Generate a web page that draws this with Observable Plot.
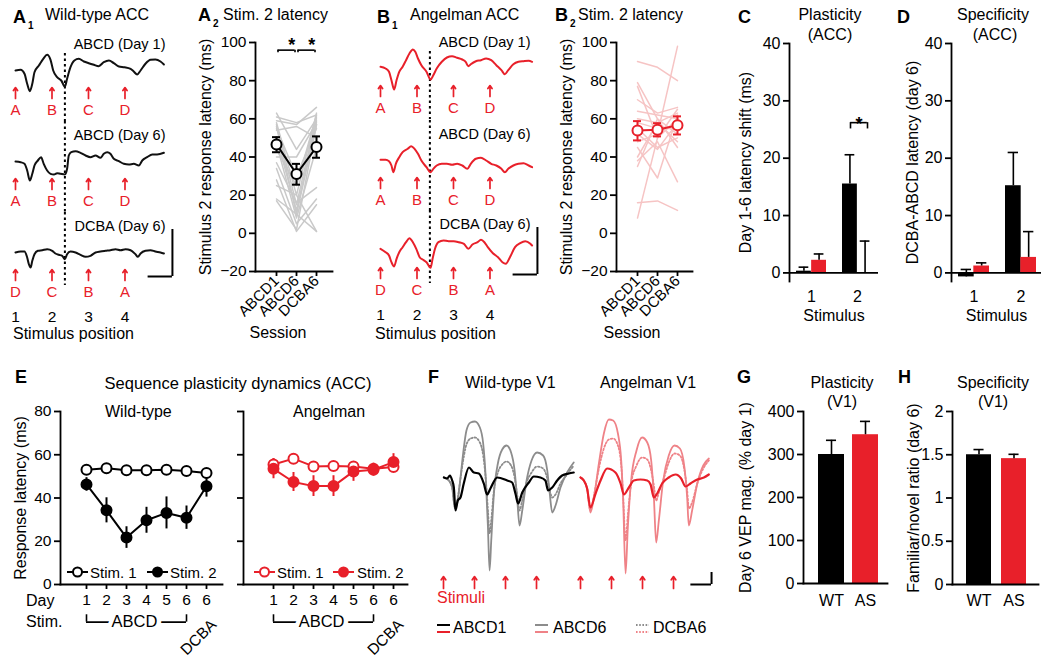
<!DOCTYPE html>
<html><head><meta charset="utf-8">
<script src="https://cdn.jsdelivr.net/npm/d3@7"></script>
<script src="https://cdn.jsdelivr.net/npm/@observablehq/plot@0.6"></script>
<style>
body{margin:0;background:#fff;}
#root{position:relative;width:1050px;height:658px;overflow:hidden;font-family:'Liberation Sans',Arial,Helvetica,sans-serif;color:#000;background:#fff;}
.t{position:absolute;white-space:nowrap;line-height:1;}
</style></head><body><div id="root"></div>
<script>
// ================= DATA =================
const stimTimes = [0, 150, 300, 450];              // ms, stimulus onsets
const stimPositionLabels = ["1", "2", "3", "4"];
const rowTitles = ["ABCD (Day 1)", "ABCD (Day 6)", "DCBA (Day 6)"];
const rowLetters = [["A","B","C","D"], ["A","B","C","D"], ["D","C","B","A"]];

// ACC traces [ms, amplitude]
const wtAccDay1 = [[0,0],[21,0.7],[37,-3.3],[48,-13.3],[59,-20.7],[69,-13.3],[78,-1.7],[96,5],[114,11.7],[130,15.7],[144,10.7],[155,0],[171,-6.7],[188,-10],[203,-16],[212,-8.3],[226,3.3],[242,10],[260,11.7],[281,9],[301,7.3],[322,5.7],[342,4.3],[363,8.3],[384,10],[404,7.3],[425,4],[448,3.3],[473,1.7],[486,-1],[500,-4],[514,0],[534,6.7],[555,10.7],[575,11],[596,9],[610,6]];
const wtAccDay6 = [[0,0],[21,-0.7],[37,-2.3],[48,-9],[59,-19],[69,-12.3],[78,-4],[92,1],[105,4.3],[116,-2.3],[130,-9],[144,-12.3],[158,-13],[171,-11.7],[185,-12.3],[203,-13],[212,-7.3],[219,6],[229,9.3],[247,10.3],[267,8.7],[288,6],[308,4.3],[329,6],[349,3.7],[363,7.7],[377,9.3],[390,7.7],[404,2.7],[425,0.3],[445,-2.3],[466,-3],[486,-2.3],[507,-4],[521,1],[541,4.3],[562,7],[582,7],[610,8.7]];
const wtAccRev6 = [[0,0],[21,1],[37,1],[48,-5],[55,-11.7],[62,-15],[69,-8.3],[78,-1.7],[92,1.7],[110,2.3],[130,3.3],[151,1.7],[164,-1],[178,-2.3],[192,-3.3],[203,-6.7],[212,-1.7],[226,1],[247,0],[267,-2.3],[288,-4.3],[308,-3.3],[329,0],[349,1],[370,1.7],[390,2.3],[411,3.3],[432,2.3],[452,3.3],[473,2.3],[493,-1.7],[503,-4.3],[514,-1],[534,1.7],[555,2.3],[575,1],[596,0],[610,-1]];
const asAccDay1 = [[0,1.7],[21,0],[35,-3.3],[45,-11.7],[56,-21],[66,-11.7],[77,-3.3],[91,1.7],[105,8.3],[119,15],[133,19],[143,16.7],[154,10],[168,3.3],[189,-3.3],[206,-11],[217,-6.7],[231,0],[252,6.7],[273,11],[294,12.3],[315,10.7],[336,9],[350,6.7],[361,2.3],[371,4.3],[392,7.3],[413,8.3],[434,10],[455,8.3],[476,3.3],[497,-1.7],[511,-5.7],[525,-1.7],[546,4.3],[567,6.7],[588,7.3],[609,7.7],[623,6.7]];
const asAccDay6 = [[0,0.7],[21,0.7],[35,-0.7],[45,-5],[53,-11.7],[63,-3.3],[77,3.3],[91,8.3],[112,11.7],[126,14.3],[140,11.7],[154,6.7],[168,0],[189,-6.7],[206,-11.7],[217,-8.3],[231,-5],[252,-3.3],[273,-3.3],[294,-4.3],[315,-3.3],[336,-5],[357,-8.3],[371,-3.3],[392,1.7],[413,2.7],[434,0],[455,-3.3],[476,-5],[497,-8.3],[511,-11.7],[525,-8.3],[546,-5],[567,-3.3],[588,-2.7],[609,-5],[623,-6.7]];
const asAccRev6 = [[0,1.7],[21,-1.7],[35,-5],[45,-11.7],[56,-16],[66,-8.3],[77,-1.7],[91,3.3],[105,8.3],[119,12.3],[133,8.3],[147,1.7],[161,-6.7],[175,-9.3],[189,-11.7],[206,-17.3],[214,-8.3],[224,1.7],[238,8.3],[259,10],[280,9.3],[301,9.3],[322,8.3],[343,6.7],[361,1.7],[378,6],[399,8.3],[413,10.7],[427,8.3],[441,3.3],[462,-2.7],[483,-6.7],[501,-11.7],[515,-13.3],[532,-6.7],[553,3.3],[574,7.3],[595,9.3],[616,6.7],[623,5]];

// Stim. 2 latency per animal (ms) at ABCD1, ABCD6, DCBA6
const sessions = ["ABCD1", "ABCD6", "DCBA6"];
const latencyTicks = [-20, 0, 20, 40, 60, 80, 100];
const wtIndividual = [[63,44,60],[61,58,62],[59,57,66],[58,20,63],[57,15,61],[56,10,57],[55,30,55],[54,56,50],[50,12,59],[47,8,45],[44,25,62],[40,40,58],[37,16,24],[34,5,18],[28,1,15],[25,20,1],[18,10,1],[17,2,57]];
const wtMean = [46.6, 31.1, 45.2], wtLo = [42.5, 25.5, 39.6], wtHi = [50.4, 36.4, 50.8];
const asIndividual = [[90,87,80],[79,60,45],[77,50,65],[70,63,66],[64,62,60],[60,58,63],[58,55,55],[55,45,50],[52,44,58],[48,52,98],[45,29,62],[40,58,48],[38,48,27],[35,60,52],[16,17,12],[8,50,60]];
const asMean = [53.9, 54.3, 56.6], asLo = [48.7, 50.8, 51.8], asHi = [58.8, 57.7, 61.3];
const wtBrackets = [{from:"ABCD1", to:"ABCD6", y:96}, {from:"ABCD6", to:"DCBA6", y:96}];

// C, D: bars (ms)
const stimuli = ["1", "2"];
const cWT = [0.3, 15.5], cWTerr = [0.7, 5.1], cAS = [2.2, -0.05], cASerr = [1.1, 5.6];
const dWT = [-0.7, 15.2], dWTerr = [1.3, 5.8], dAS = [1.2, 2.7], dASerr = [0.55, 4.5];

// E: sequence plasticity dynamics
const days = ["1","2","3","4","5","6","6r"];
const dayLabels = ["1","2","3","4","5","6","6"];
const eWT1 = [53.1,53.8,52.8,52.8,53.1,52.5,51.6], eWT1err = [1.2,1.0,1.0,1.0,1.0,1.2,1.5];
const eWT2 = [46.3,34.3,21.7,29.7,33.1,30.9,45.4], eWT2err = [3.1,5.8,5.0,6.0,7.4,5.4,5.0];
const eAS1 = [55.5,58.2,54.6,54.8,54.6,53.5,54.3], eAS1err = [2.7,1.5,1.2,1.2,1.5,1.5,1.5];
const eAS2 = [53.5,47.4,45.5,45.5,52.3,53.1,56.6], eAS2err = [4.6,4.4,4.8,4.8,4.6,3.0,3.9];

// F: VEP traces [ms, amplitude]
const wtV1abcd1 = [[2,3],[18,2],[31,5],[42,0],[50,-7],[58,-30],[69,-20],[82,-17],[98,-3],[123,13],[147,8],[171,7],[195,-3],[211,-14],[227,-8],[260,3],[308,0],[332,-2],[348,-13],[361,-23],[381,-12],[413,-2],[437,4],[469,3],[493,0],[506,-10],[526,-7],[550,0],[574,5],[606,7],[630,8]];
const wtV1abcd6 = [[2,3],[26,0],[42,-7],[55,-28],[69,-20],[79,-3],[95,27],[111,50],[131,58],[152,59],[176,53],[192,37],[205,0],[215,-47],[223,-90],[231,-60],[244,-13],[263,17],[284,31],[305,35],[327,28],[344,10],[357,-20],[368,-45],[381,-30],[402,0],[426,20],[453,28],[482,25],[502,10],[514,-13],[526,-32],[542,-25],[566,-7],[598,8],[630,18]];
const wtV1dcba6 = [[2,3],[26,0],[42,-7],[55,-26],[69,-18],[79,-3],[95,20],[111,36],[131,42],[152,43],[176,38],[192,25],[205,0],[215,-30],[223,-53],[231,-40],[244,-10],[263,8],[284,16],[305,19],[327,15],[344,3],[357,-15],[368,-30],[381,-20],[402,-2],[426,8],[453,14],[482,12],[502,2],[514,-10],[526,-17],[542,-14],[566,-3],[598,6],[630,15]];
const asV1abcd1 = [[0,3],[16,0],[32,-8],[48,-27],[73,-13],[97,0],[129,12],[169,8],[194,-3],[210,-14],[234,-7],[258,0],[290,1],[323,0],[339,-4],[355,-17],[371,-13],[395,-3],[427,3],[460,6],[487,2],[508,-6],[532,-3],[565,1],[597,3],[621,6]];
const asV1abcd6 = [[0,3],[16,0],[32,-8],[48,-32],[65,-17],[89,17],[113,47],[137,61],[158,60],[181,47],[197,20],[206,-17],[218,-93],[229,-47],[245,0],[271,30],[298,43],[323,38],[342,20],[355,-17],[366,-62],[379,-40],[400,0],[427,25],[455,35],[481,32],[503,13],[516,-17],[524,-45],[540,-30],[565,-3],[594,15],[621,22]];
const asV1dcba6 = [[0,3],[16,0],[32,-8],[48,-30],[65,-15],[89,12],[113,32],[137,41],[158,42],[181,35],[197,15],[206,-15],[218,-60],[229,-35],[245,-3],[271,15],[298,23],[323,21],[342,10],[355,-5],[366,-20],[379,-12],[400,0],[427,18],[455,27],[481,25],[503,10],[516,-10],[524,-28],[540,-22],[565,-3],[594,12],[621,20]];

// G, H
const genotypes = ["WT", "AS"];
const gMean = [300, 346], gErr = [33, 31];
const hMean = [1.50, 1.455], hErr = [0.06, 0.05];

// annotations (data units)
const DASH_T = 203;
const accScaleBar = {t: 645, ms: 100, v0: -24, amp: 47};
const vepScaleBar = {t: 634, ms: 100, v0: -104, amp: 12};

// ================= STYLE / HELPERS =================
const root = document.getElementById("root");
const FONT = "'Liberation Sans', Arial, Helvetica, sans-serif";
const RED = "#e8202a";
const PINK_LINES = "#f6c4c4";
const GRAY_LINES = "#c9c9c9";
const GRAY_F = "#8c8c8c";
const PINK_F = "#ef8287";
const STYLE = {fontFamily: FONT, fontSize: "15px", background: "transparent", overflow: "visible", color: "#000"};

function place(p, left, top) {
  p.style.position = "absolute"; p.style.left = left + "px"; p.style.top = top + "px";
  root.append(p); return p;
}
function txt(s, x, cy, o = {}) {
  const d = document.createElement("div");
  d.className = "t"; d.textContent = s;
  const size = o.size || 16;
  d.style.fontSize = size + "px";
  if (o.bold) d.style.fontWeight = "bold";
  if (o.color) d.style.color = o.color;
  d.style.top = (cy - size * 0.5) + "px";
  d.style.left = x + "px";
  if (o.anchor === "middle") d.style.transform = "translateX(-50%)";
  root.append(d);
}
const yLabel = (s, dx) => Plot.text([s], {frameAnchor: "left", rotate: -90, dx, textAnchor: "middle", lineAnchor: "middle", fontSize: 16});

// ---- A1 / B1 trace rows ----
const MSPX = 0.2433;
function traceRow(trace, color, k, dash, withAxis, scaleBar) {
  const W = 175, ml = 15, mr = 2, mb = withAxis ? 26 : 0;
  const marks = [
    Plot.ruleX([DASH_T], {y1: dash[0], y2: dash[1], stroke: "#000", strokeWidth: 2, strokeDasharray: "2.5,3"}),
    Plot.line(trace, {x: d => d[0], y: d => d[1], stroke: color, strokeWidth: 2, curve: "monotone-x"}),
    Plot.arrow(stimTimes, {x1: d => d, x2: d => d, y1: -28, y2: -17, stroke: RED, strokeWidth: 1.7, headLength: 5, headAngle: 70}),
    Plot.text(rowLetters[k], {x: (d, i) => stimTimes[i], y: -40, fill: RED, fontSize: 15}),
    Plot.text([rowTitles[k]], {frameAnchor: "top-right", dx: -8, dy: 8, fontSize: 14.5})
  ];
  if (withAxis) marks.push(Plot.axisX({ticks: stimTimes, tickFormat: d => stimPositionLabels[stimTimes.indexOf(d)], tickSize: 0, tickPadding: 7, fontSize: 15.5, label: null}));
  if (scaleBar) marks.push(
    Plot.ruleX([scaleBar], {x: "t", y1: "v0", y2: d => d.v0 + d.amp, strokeWidth: 2}),
    Plot.ruleY([scaleBar], {y: "v0", x1: d => d.t - d.ms, x2: "t", strokeWidth: 2})
  );
  return Plot.plot({
    width: W, height: 91 + mb, marginLeft: ml, marginRight: mr, marginTop: 0, marginBottom: mb,
    x: {domain: [0, (W - ml - mr) / MSPX], axis: withAxis ? undefined : null},
    y: {domain: [-51, 40], axis: null},
    style: STYLE, marks
  });
}
const rowDash = [[17, -51], [40, -51], [40, -33]];
[wtAccDay1, wtAccDay6, wtAccRev6].forEach((tr, k) => place(traceRow(tr, "#111", k, rowDash[k], k === 2, k === 2 ? accScaleBar : null), 0, [30, 121, 212][k]));
[asAccDay1, asAccDay6, asAccRev6].forEach((tr, k) => place(traceRow(tr, RED, k, rowDash[k], k === 2, k === 2 ? accScaleBar : null), 365, [28, 120, 210][k]));

// ---- A2 / B2 ----
function sessionPlot(indiv, mean, lo, hi, lineColor, meanColor, ml, mr, range, brackets) {
  const long = indiv.flatMap((r, id) => r.map((v, j) => ({id, session: sessions[j], value: v})));
  const means = sessions.map((s, i) => ({session: s, mean: mean[i], lo: lo[i], hi: hi[i]}));
  const step = (range[1] - range[0]) / 2;
  const marks = [
    Plot.line(long, {x: "session", y: "value", z: "id", stroke: lineColor, strokeWidth: 1.5}),
    Plot.frame({anchor: "left", strokeWidth: 1.8}),
    Plot.frame({anchor: "bottom", strokeWidth: 1.8}),
    Plot.axisY({ticks: latencyTicks, tickSize: 6, tickPadding: 3, fontSize: 15.5, strokeWidth: 1.8, label: null}),
    Plot.axisX({tickSize: 5, tickRotate: -45, tickPadding: 2, fontSize: 15, strokeWidth: 1.8, label: null}),
    yLabel("Stimulus 2 response latency (ms)", -50),
    Plot.line(means, {x: "session", y: "mean", stroke: meanColor, strokeWidth: 2}),
    Plot.ruleX(means, {x: "session", y1: "lo", y2: "hi", stroke: meanColor, strokeWidth: 2}),
    Plot.ruleY(means, {x1: "session", x2: "session", y: "lo", insetLeft: -4, insetRight: -4, stroke: meanColor, strokeWidth: 2}),
    Plot.ruleY(means, {x1: "session", x2: "session", y: "hi", insetLeft: -4, insetRight: -4, stroke: meanColor, strokeWidth: 2}),
    Plot.dot(means, {x: "session", y: "mean", r: 5, fill: "white", stroke: meanColor, strokeWidth: 2})
  ];
  if (brackets) marks.push(
    Plot.ruleY(brackets, {x1: "from", x2: "to", y: "y", insetLeft: 1.5, insetRight: 1.5, strokeWidth: 1.6}),
    Plot.ruleX(brackets, {x: "from", y1: d => d.y - 1.4, y2: "y", dx: 1.5, strokeWidth: 1.6}),
    Plot.ruleX(brackets, {x: "to", y1: d => d.y - 1.4, y2: "y", dx: -1.5, strokeWidth: 1.6}),
    Plot.text(brackets, {x: "from", y: "y", text: () => "*", dx: step / 2, dy: 1, fontSize: 18, fontWeight: "bold", lineAnchor: "bottom"})
  );
  return Plot.plot({
    width: 150, height: 320, marginLeft: ml, marginRight: mr, marginTop: 22, marginBottom: 69,
    x: {type: "point", domain: sessions, range}, y: {domain: [-20, 100]},
    style: STYLE, marks
  });
}
place(sessionPlot(wtIndividual, wtMean, wtLo, wtHi, GRAY_LINES, "#000", 60, 13, [70, 131], wtBrackets), 195, 20);
place(sessionPlot(asIndividual, asMean, asLo, asHi, PINK_LINES, RED, 66, 8, [76, 138], null), 550, 20);

// ---- bar plots (C, D, G, H) ----
function barPlot(o) {
  const bw = d3.scaleBand().domain(o.xdomain).range([o.ml, o.width - o.mr]).paddingInner(o.pi).paddingOuter(o.po).align(o.align).bandwidth();
  const cap = 5;
  const marks = [];
  if (o.grouped) {
    marks.push(
      Plot.barY(o.wt, {x: "x", y1: 0, y2: "v", fill: "#000", insetRight: bw / 2}),
      Plot.barY(o.as, {x: "x", y1: 0, y2: "v", fill: RED, insetLeft: bw / 2}),
      Plot.ruleX(o.wt, {x: "x", y1: "v", y2: d => d.v + d.e, dx: -bw / 4, strokeWidth: 1.6}),
      Plot.ruleX(o.as, {x: "x", y1: "v", y2: d => d.v + d.e, dx: bw / 4, strokeWidth: 1.6}),
      Plot.tickY(o.wt, {x: "x", y: d => d.v + d.e, insetLeft: bw / 4 - cap, insetRight: 3 * bw / 4 - cap, strokeWidth: 1.6}),
      Plot.tickY(o.as, {x: "x", y: d => d.v + d.e, insetLeft: 3 * bw / 4 - cap, insetRight: bw / 4 - cap, strokeWidth: 1.6}),
      Plot.ruleY([0], {strokeWidth: 1.8})
    );
  } else {
    marks.push(
      Plot.barY(o.wt, {x: "x", y1: 0, y2: "v", fill: "#000"}),
      Plot.barY(o.as, {x: "x", y1: 0, y2: "v", fill: RED}),
      Plot.ruleX(o.wt.concat(o.as), {x: "x", y1: "v", y2: d => d.v + d.e, strokeWidth: 1.6}),
      Plot.tickY(o.wt.concat(o.as), {x: "x", y: d => d.v + d.e, insetLeft: bw / 2 - cap, insetRight: bw / 2 - cap, strokeWidth: 1.6}),
      Plot.frame({anchor: "bottom", strokeWidth: 1.8})
    );
  }
  marks.push(
    Plot.frame({anchor: "left", strokeWidth: 1.8}),
    Plot.axisY({ticks: o.yticks, tickFormat: o.yfmt, tickSize: 6, tickPadding: 3, fontSize: 16, strokeWidth: 1.8, label: null}),
    Plot.axisX({tickSize: 0, tickPadding: o.xpad, fontSize: 16, label: null}),
    yLabel(o.ylabel, o.ydx)
  );
  if (o.xlabel) marks.push(Plot.text([o.xlabel], {frameAnchor: "bottom", dy: 34, lineAnchor: "middle", fontSize: 16}));
  if (o.extra) marks.push(...o.extra(bw));
  return Plot.plot({
    width: o.width, height: o.height, marginLeft: o.ml, marginRight: o.mr, marginTop: o.mt, marginBottom: o.mb,
    x: {type: "band", domain: o.xdomain, paddingInner: o.pi, paddingOuter: o.po, align: o.align},
    y: {domain: o.ydomain},
    style: STYLE, marks
  });
}
const zipBars = (xs, v, e) => xs.map((x, i) => ({x, v: v[i], e: e[i]}));
const cSig = [{x: "2", y: 26.2}];
place(barPlot({width: 175, height: 320, ml: 74, mr: 12, mt: 23, mb: 59, ydomain: [-1.5, 40], yticks: [0,10,20,30,40], xdomain: stimuli,
  pi: 0.35, po: 0.13, align: 0.5, grouped: true, wt: zipBars(stimuli, cWT, cWTerr), as: zipBars(stimuli, cAS, cASerr),
  ylabel: "Day 1-6 latency shift (ms)", ydx: -44, xlabel: "Stimulus", xpad: 9,
  extra: bw => [
    Plot.ruleY(cSig, {x1: "x", x2: "x", y: "y", insetLeft: bw / 2 - 7, insetRight: bw / 2 - 10, strokeWidth: 1.6}),
    Plot.ruleX(cSig, {x: "x", y1: d => d.y - 1.1, y2: "y", dx: -7, strokeWidth: 1.6}),
    Plot.ruleX(cSig, {x: "x", y1: d => d.y - 1.1, y2: "y", dx: 10, strokeWidth: 1.6}),
    Plot.text(cSig, {x: "x", y: "y", text: () => "*", dx: 1.5, dy: 7, fontSize: 18, fontWeight: "bold", lineAnchor: "bottom"})
  ]}), 715, 20);
place(barPlot({width: 170, height: 320, ml: 71, mr: 9, mt: 23, mb: 59, ydomain: [-1.5, 40], yticks: [0,10,20,30,40], xdomain: stimuli,
  pi: 0.35, po: 0.13, align: 0.55, grouped: true, wt: zipBars(stimuli, dWT, dWTerr), as: zipBars(stimuli, dAS, dASerr),
  ylabel: "DCBA-ABCD latency (day 6)", ydx: -39, xlabel: "Stimulus", xpad: 9}), 880, 20);
place(barPlot({width: 170, height: 240, ml: 73, mr: 13, mt: 31, mb: 37, ydomain: [0, 400], yticks: [0,100,200,300,400], xdomain: genotypes,
  pi: 0.25, po: 0.34, align: 0.6, grouped: false, wt: [{x: "WT", v: gMean[0], e: gErr[0]}], as: [{x: "AS", v: gMean[1], e: gErr[1]}],
  ylabel: "Day 6 VEP mag. (% day 1)", ydx: -58, xpad: 11}), 730, 380);
place(barPlot({width: 160, height: 240, ml: 62, mr: 12, mt: 31, mb: 36, ydomain: [0, 2], yticks: [0,0.5,1,1.5,2], yfmt: d => String(d), xdomain: genotypes,
  pi: 0.29, po: 0.37, align: 0.55, grouped: false, wt: [{x: "WT", v: hMean[0], e: hErr[0]}], as: [{x: "AS", v: hMean[1], e: hErr[1]}],
  ylabel: "Familiar/novel ratio (day 6)", ydx: -39, xpad: 10}), 890, 380);

// ---- E ----
function ePlot(s1, s1e, s2, s2e, color, width, ml, mr, range, showLabels) {
  const d1 = days.map((d, i) => ({day: d, v: s1[i], e: s1e[i]}));
  const d2 = days.map((d, i) => ({day: d, v: s2[i], e: s2e[i]}));
  const step = (range[1] - range[0]) / 6;
  const bracket = [{from: "1", to: "6", mid: "4", y: -17.4, label: "ABCD", rev: "DCBA", revAt: "6r"}];
  const marks = [
    Plot.frame({anchor: "left", strokeWidth: 1.8}),
    Plot.frame({anchor: "bottom", strokeWidth: 1.8}),
    Plot.axisY({ticks: [0,20,40,60,80], tickFormat: showLabels ? d => String(d) : () => "", tickSize: 6, tickPadding: 3, fontSize: 15.5, strokeWidth: 1.8, label: null}),
    Plot.axisX({tickSize: 5, tickPadding: 4, tickFormat: d => dayLabels[days.indexOf(d)], fontSize: 15.5, strokeWidth: 1.8, label: null}),
    Plot.ruleX(d2, {x: "day", y1: d => d.v - d.e, y2: d => d.v + d.e, stroke: color, strokeWidth: 2}),
    Plot.ruleX(d1, {x: "day", y1: d => d.v - d.e, y2: d => d.v + d.e, stroke: color, strokeWidth: 2}),
    Plot.line(d2, {x: "day", y: "v", stroke: color, strokeWidth: 2}),
    Plot.line(d1, {x: "day", y: "v", stroke: color, strokeWidth: 2}),
    Plot.dot(d1, {x: "day", y: "v", r: 5, fill: "white", stroke: color, strokeWidth: 2}),
    Plot.dot(d2, {x: "day", y: "v", r: 5, fill: color, stroke: color, strokeWidth: 2}),
    Plot.ruleY(bracket, {x1: "from", x2: "to", y: "y", strokeWidth: 1.6}),
    Plot.ruleX(bracket, {x: "from", y1: "y", y2: d => d.y + 3.4, strokeWidth: 1.6}),
    Plot.ruleX(bracket, {x: "to", y1: "y", y2: d => d.y + 3.4, strokeWidth: 1.6}),
    Plot.text(bracket, {x: "mid", y: "y", text: "label", dx: -step / 2, fontSize: 16.5, stroke: "white", strokeWidth: 9, fill: "#000"}),
    Plot.text(bracket, {x: "revAt", y: d => d.y + 2, text: "rev", rotate: -45, textAnchor: "end", lineAnchor: "top", dx: 3, fontSize: 15.5})
  ];
  if (showLabels) marks.push(yLabel("Response latency (ms)", -40));
  return Plot.plot({
    width, height: 250, marginLeft: ml, marginRight: mr, marginTop: 21, marginBottom: 56,
    x: {type: "point", domain: days, range}, y: {domain: [0, 80]},
    style: STYLE, marks
  });
}
place(ePlot(eWT1, eWT1err, eWT2, eWT2err, "#000", 230, 60, 8, [74, 218], true), 0, 390);
place(ePlot(eAS1, eAS1err, eAS2, eAS2err, RED, 190, 13, 13, [31, 174], false), 230, 390);

// ---- F ----
const FPX = 0.2067;
function vepPlot(traces, width, ml, scaleBar) {
  const marks = traces.map(tr => Plot.line(tr.data, {x: d => d[0], y: d => d[1], stroke: tr.color, strokeWidth: tr.w, strokeDasharray: tr.dash, curve: "monotone-x"}));
  marks.push(Plot.arrow(stimTimes, {x1: d => d, x2: d => d, y1: -108, y2: -96, stroke: RED, strokeWidth: 1.7, headLength: 5, headAngle: 70}));
  if (scaleBar) marks.push(
    Plot.ruleX([scaleBar], {x: "t", y1: "v0", y2: d => d.v0 + d.amp, strokeWidth: 2}),
    Plot.ruleY([scaleBar], {y: "v0", x1: d => d.t - d.ms, x2: "t", strokeWidth: 2})
  );
  return Plot.plot({
    width, height: 200, marginLeft: ml, marginRight: 0, marginTop: 10, marginBottom: 10,
    x: {domain: [0, (width - ml) / FPX], axis: null}, y: {domain: [-110, 70], axis: null},
    style: STYLE, marks
  });
}
place(vepPlot([
  {data: wtV1dcba6, color: GRAY_F, w: 1.8, dash: "1.6,2"},
  {data: wtV1abcd6, color: GRAY_F, w: 1.8},
  {data: wtV1abcd1, color: "#000", w: 2.2}], 150, 13, null), 430, 400);
place(vepPlot([
  {data: asV1dcba6, color: PINK_F, w: 1.8, dash: "1.6,2"},
  {data: asV1abcd6, color: PINK_F, w: 1.8},
  {data: asV1abcd1, color: RED, w: 2.2}], 145, 10, vepScaleBar), 570, 400);

// ---- legends (HTML/SVG) ----
function eLegend(x, cy, color, filled) {
  const s = d3.create("svg").attr("width", 21).attr("height", 12)
    .style("position", "absolute").style("left", x + "px").style("top", (cy - 6) + "px");
  s.append("line").attr("x1", 0).attr("x2", 21).attr("y1", 6).attr("y2", 6).attr("stroke", color).attr("stroke-width", 2);
  s.append("circle").attr("cx", 10.5).attr("cy", 6).attr("r", 4.5).attr("fill", filled ? color : "white").attr("stroke", color).attr("stroke-width", 2);
  root.append(s.node());
}
function fLegend(x, cy, c1, c2, dash) {
  const s = d3.create("svg").attr("width", 14).attr("height", 14)
    .style("position", "absolute").style("left", x + "px").style("top", (cy - 7) + "px");
  s.append("line").attr("x1", 0).attr("x2", 13).attr("y1", 4).attr("y2", 4).attr("stroke", c1).attr("stroke-width", 2).attr("stroke-dasharray", dash || null);
  s.append("line").attr("x1", 0).attr("x2", 13).attr("y1", 11).attr("y2", 11).attr("stroke", c2).attr("stroke-width", 2).attr("stroke-dasharray", dash || null);
  root.append(s.node());
}
eLegend(67, 572, "#000", false); txt("Stim. 1", 90, 572, {size: 15});
eLegend(147, 572, "#000", true); txt("Stim. 2", 170, 572, {size: 15});
eLegend(254, 572, RED, false); txt("Stim. 1", 277, 572, {size: 15});
eLegend(333, 572, RED, true); txt("Stim. 2", 357, 572, {size: 15});
fLegend(437, 628, "#000", RED); txt("ABCD1", 453, 628);
fLegend(535, 628, GRAY_F, PINK_F); txt("ABCD6", 553, 628);
fLegend(636, 628, GRAY_F, PINK_F, "1.6,1.6"); txt("DCBA6", 653, 628);

// ---- texts ----
txt("A", 13, 17, {size: 18, bold: true}); txt("1", 28, 26, {size: 10, bold: true});
txt("Wild-type ACC", 45, 15);
txt("Stimulus position", 13, 334);
txt("A", 198, 15, {size: 18, bold: true}); txt("2", 213, 24, {size: 10, bold: true});
txt("Stim. 2 latency", 223, 15);
txt("Session", 278, 333, {anchor: "middle"});
txt("B", 377, 17, {size: 18, bold: true}); txt("1", 392, 26, {size: 10, bold: true});
txt("Angelman ACC", 410, 15);
txt("Stimulus position", 375, 334);
txt("B", 555, 15, {size: 18, bold: true}); txt("2", 570, 24, {size: 10, bold: true});
txt("Stim. 2 latency", 578, 15);
txt("Session", 632, 333, {anchor: "middle"});
txt("C", 738, 17, {size: 18, bold: true});
txt("Plasticity", 830, 15, {anchor: "middle"}); txt("(ACC)", 830, 35, {anchor: "middle"});
txt("D", 897, 17, {size: 18, bold: true});
txt("Specificity", 993, 15, {anchor: "middle"}); txt("(ACC)", 995, 35, {anchor: "middle"});
txt("E", 15, 377, {size: 18, bold: true});
txt("Sequence plasticity dynamics (ACC)", 238, 383, {anchor: "middle", size: 16.5});
txt("Wild-type", 105, 412); txt("Angelman", 293, 412);
txt("Day", 26, 601); txt("Stim.", 26, 622);
txt("F", 428, 377, {size: 18, bold: true});
txt("Wild-type V1", 465, 383); txt("Angelman V1", 600, 383);
txt("Stimuli", 437, 598, {color: RED});
txt("G", 737, 377, {size: 18, bold: true});
txt("Plasticity", 842, 383, {anchor: "middle"}); txt("(V1)", 842, 402, {anchor: "middle"});
txt("H", 898, 377, {size: 18, bold: true});
txt("Specificity", 993, 383, {anchor: "middle"}); txt("(V1)", 993, 402, {anchor: "middle"});
</script></body></html>
